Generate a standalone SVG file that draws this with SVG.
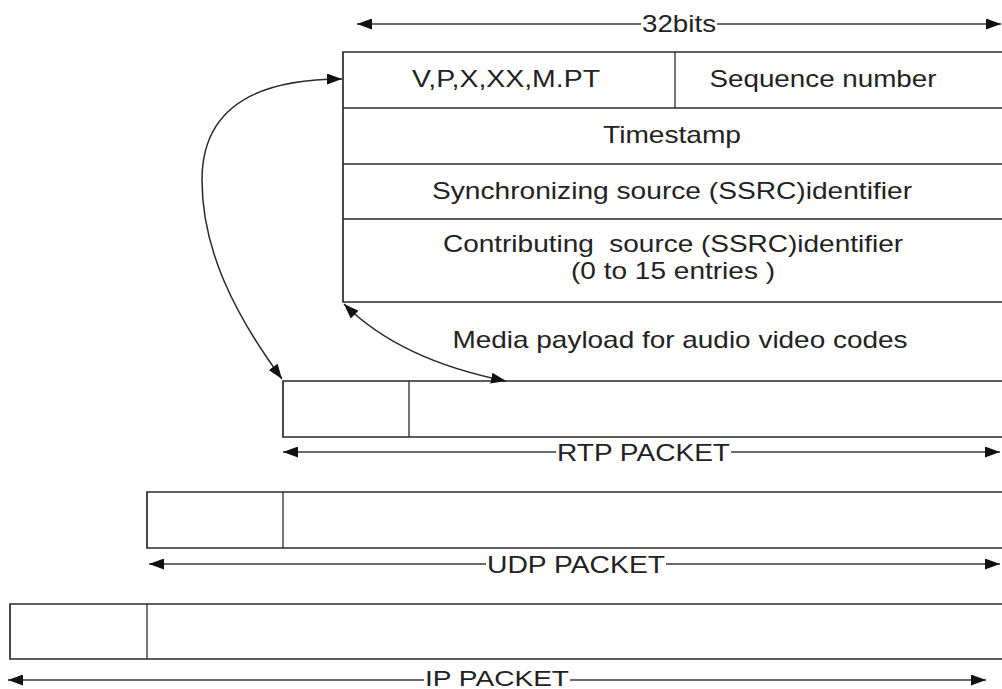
<svg xmlns="http://www.w3.org/2000/svg" width="1002" height="689" viewBox="0 0 1002 689">
  <style>
    .box { fill: none; stroke: #2a2a2a; stroke-width: 1.7; }
    .thin { fill: none; stroke: #2a2a2a; stroke-width: 1.3; }
    .dim { fill: none; stroke: #3a3a3a; stroke-width: 1.6; }
    .conn { fill: none; stroke: #2a2a2a; stroke-width: 1.5; }
    .lbl { font-family: "Liberation Sans", Arial, sans-serif; font-size: 24px; fill: #222; text-anchor: middle; }
  </style>
  <defs>
    <marker id="ah" markerUnits="userSpaceOnUse" markerWidth="15" markerHeight="11" refX="15" refY="5.5" orient="auto-start-reverse">
      <path d="M0,0 L15,5.5 L0,11 z" fill="#111"/>
    </marker>
  </defs>
  <rect width="1002" height="689" fill="#ffffff"/>

  <g id="dim-32bits">
    <path class="dim" d="M357 24 L641 24" marker-start="url(#ah)"/>
    <path class="dim" d="M717 24 L1001 24" marker-end="url(#ah)"/>
    <text class="lbl" x="679" y="32" textLength="74" lengthAdjust="spacingAndGlyphs">32bits</text>
  </g>

  <g id="rtp-header">
    <path class="box" d="M1002 52 L343 52 L343 302 L1002 302"/>
    <path class="box" d="M343 108 L1002 108 M343 164 L1002 164 M343 219 L1002 219"/>
    <path class="thin" d="M675 52 L675 108"/>
    <text class="lbl" x="506" y="87" textLength="188" lengthAdjust="spacingAndGlyphs">V,P,X,XX,M.PT</text>
    <text class="lbl" x="823" y="87" textLength="227" lengthAdjust="spacingAndGlyphs">Sequence number</text>
    <text class="lbl" x="672" y="143" textLength="138" lengthAdjust="spacingAndGlyphs">Timestamp</text>
    <text class="lbl" x="672" y="199" textLength="480" lengthAdjust="spacingAndGlyphs">Synchronizing source (SSRC)identifier</text>
    <text class="lbl" x="673" y="252" textLength="460" lengthAdjust="spacingAndGlyphs" xml:space="preserve">Contributing  source (SSRC)identifier</text>
    <text class="lbl" x="673" y="279" textLength="204" lengthAdjust="spacingAndGlyphs" xml:space="preserve">(0 to 15 entries )</text>
    <text class="lbl" x="680" y="348" textLength="455" lengthAdjust="spacingAndGlyphs">Media payload for audio video codes</text>
  </g>

  <g id="rtp-packet">
    <path class="box" d="M1002 381 L283 381 L283 437 L1002 437"/>
    <path class="thin" d="M409 381 L409 437"/>
    <path class="dim" d="M283 452 L556 452" marker-start="url(#ah)"/>
    <path class="dim" d="M731 452 L1000 452" marker-end="url(#ah)"/>
    <text class="lbl" x="643.5" y="461" textLength="173" lengthAdjust="spacingAndGlyphs">RTP PACKET</text>
  </g>

  <g id="udp-packet">
    <path class="box" d="M1002 492 L147 492 L147 548 L1002 548"/>
    <path class="thin" d="M283 492 L283 548"/>
    <path class="dim" d="M149 564 L486 564" marker-start="url(#ah)"/>
    <path class="dim" d="M666 564 L1000 564" marker-end="url(#ah)"/>
    <text class="lbl" x="576" y="573" textLength="178" lengthAdjust="spacingAndGlyphs">UDP PACKET</text>
  </g>

  <g id="ip-packet">
    <path class="box" d="M1002 604 L10 604 L10 659 L1002 659"/>
    <path class="thin" d="M147 604 L147 659"/>
    <path class="dim" d="M8 680 L424 680" marker-start="url(#ah)"/>
    <path class="dim" d="M570 680 L986 680" marker-end="url(#ah)"/>
    <text class="lbl" x="497" y="686" style="font-size:22px" textLength="144" lengthAdjust="spacingAndGlyphs">IP PACKET</text>
  </g>

  <g id="connectors">
    <path class="conn" d="M342 79 C245 79 202 115 202 180 C202 250 235 315 282 379" marker-start="url(#ah)" marker-end="url(#ah)"/>
    <path class="conn" d="M344 304 Q400 360 506 381" marker-start="url(#ah)" marker-end="url(#ah)"/>
  </g>
</svg>
